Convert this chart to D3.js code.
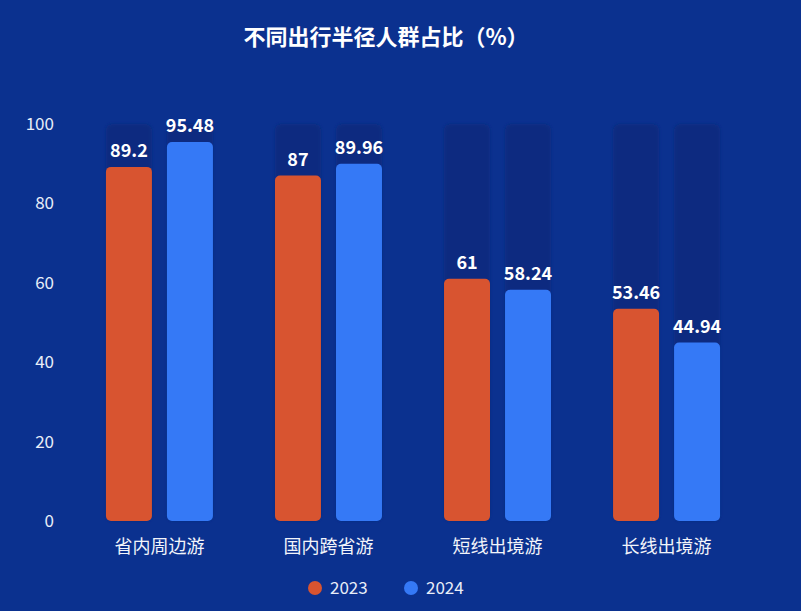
<!DOCTYPE html>
<html>
<head>
<meta charset="utf-8">
<script src="https://cdn.jsdelivr.net/npm/d3@7"></script>
<style>
  html, body { margin: 0; padding: 0; background: #0b318f; }
  svg { display: block; font-family: "Noto Sans CJK SC", "Noto Sans", sans-serif; }
</style>
</head>
<body>
<div id="chart"></div>
<script>
// data
var categories = ["省内周边游", "国内跨省游", "短线出境游", "长线出境游"];
var seriesNames = ["2023", "2024"];
var values2023 = [89.2, 87, 61, 53.46];
var values2024 = [95.48, 89.96, 58.24, 44.94];
var yTicks = [0, 20, 40, 60, 80, 100];

var colors = { "2023": "#d85430", "2024": "#3579f6" };

var width = 801, height = 611;
var margin = { top: 124, right: 50, bottom: 90, left: 75 };

var svg = d3.select("#chart").append("svg")
    .attr("width", width)
    .attr("height", height);

svg.append("rect").attr("width", width).attr("height", height).attr("fill", "#0b318f");

// soft edge for the background bars
var defs = svg.append("defs");
defs.append("filter").attr("id", "soft")
    .attr("x", "-20%").attr("y", "-5%").attr("width", "140%").attr("height", "110%")
  .append("feGaussianBlur").attr("stdDeviation", 1.5);

var x0 = d3.scaleBand()
    .domain(categories)
    .range([margin.left, width - margin.right])
    .paddingInner(0.367)
    .paddingOuter(0.183);

var x1 = d3.scaleBand()
    .domain(seriesNames)
    .range([0, x0.bandwidth()])
    .paddingInner(0.246);

var y = d3.scaleLinear()
    .domain([0, 100])
    .range([height - margin.bottom, margin.top]);

// title
svg.append("text")
    .attr("x", 386)
    .attr("y", 45)
    .attr("text-anchor", "middle")
    .attr("fill", "#ffffff")
    .style("font-size", "22px")
    .style("font-weight", "bold")
    .text("不同出行半径人群占比（%）");

// y axis labels (no line)
var yAxis = d3.axisLeft(y).tickValues(yTicks).tickSize(0).tickPadding(0);
var gy = svg.append("g")
    .attr("transform", "translate(" + 54 + ",0)")
    .call(yAxis);
gy.select(".domain").remove();
gy.selectAll("text")
    .attr("fill", "#e8edf8")
    .style("font-size", "17px")
    .style("font-family", "'Noto Sans CJK SC', sans-serif");

// x axis labels
var xAxis = d3.axisBottom(x0).tickSize(0).tickPadding(0);
var gx = svg.append("g")
    .attr("transform", "translate(0," + (height - margin.bottom + 19) + ")")
    .call(xAxis);
gx.select(".domain").remove();
gx.selectAll("text")
    .attr("fill", "#f2f4fa")
    .style("font-size", "18px")
    .style("font-family", "'Noto Sans CJK SC', sans-serif");

// build rows for each category
var rows = categories.map(function(c, i) {
    return {
        category: c,
        items: [
            { name: "2023", value: values2023[i] },
            { name: "2024", value: values2024[i] }
        ]
    };
});

var group = svg.selectAll(".group")
    .data(rows)
    .enter().append("g")
    .attr("class", "group")
    .attr("transform", function(d) { return "translate(" + x0(d.category) + ",0)"; });

// background bars
group.selectAll(".bg")
    .data(function(d) { return d.items; })
    .enter().append("rect")
    .attr("class", "bg")
    .attr("x", function(d) { return x1(d.name); })
    .attr("y", y(100))
    .attr("width", x1.bandwidth())
    .attr("height", y(0) - y(100))
    .attr("rx", 6)
    .attr("fill", "#0a2a80")
    .attr("filter", "url(#soft)");

// value bars
group.selectAll(".bar")
    .data(function(d) { return d.items; })
    .enter().append("rect")
    .attr("class", "bar")
    .attr("x", function(d) { return x1(d.name); })
    .attr("y", function(d) { return y(d.value); })
    .attr("width", x1.bandwidth())
    .attr("height", function(d) { return y(0) - y(d.value); })
    .attr("rx", 5)
    .attr("fill", function(d) { return colors[d.name]; });

// value labels
group.selectAll(".val")
    .data(function(d) { return d.items; })
    .enter().append("text")
    .attr("class", "val")
    .attr("x", function(d) { return x1(d.name) + x1.bandwidth() / 2; })
    .attr("y", function(d) { return y(d.value) - 10; })
    .attr("text-anchor", "middle")
    .attr("fill", "#ffffff")
    .style("font-size", "18px")
    .style("font-weight", "bold")
    .text(function(d) { return d.value; });

// legend
var legend = svg.append("g").attr("class", "legend");
var legendX = [315, 411];
seriesNames.forEach(function(s, i) {
    legend.append("circle")
        .attr("cx", legendX[i])
        .attr("cy", 588)
        .attr("r", 7)
        .attr("fill", colors[s]);
    legend.append("text")
        .attr("x", legendX[i] + 15)
        .attr("y", 594)
        .attr("fill", "#e8edf8")
        .style("font-size", "17px")
        .text(s);
});
</script>
</body>
</html>
